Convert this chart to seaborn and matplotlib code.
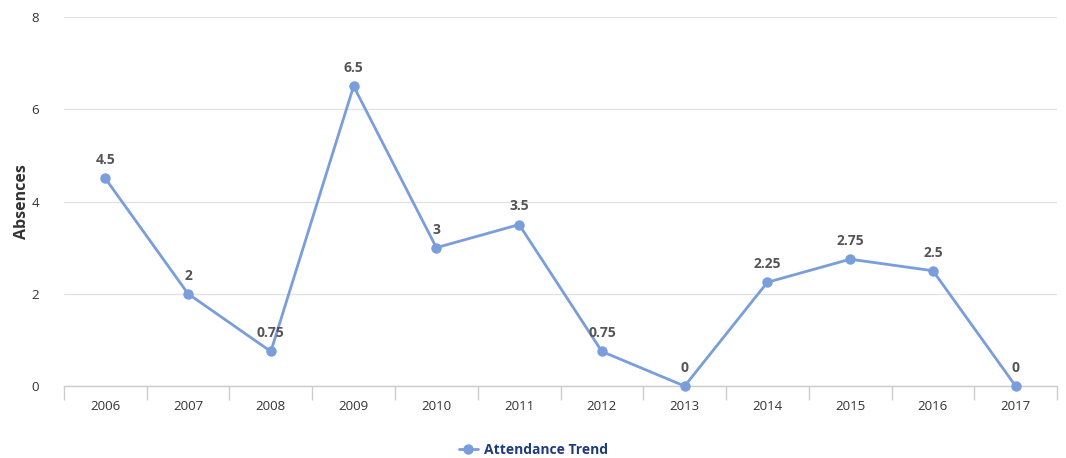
import numpy as np
import matplotlib
matplotlib.use("Agg")
import matplotlib.pyplot as plt
import seaborn as sns
from matplotlib.ticker import FixedLocator

years = ["2006", "2007", "2008", "2009", "2010", "2011",
         "2012", "2013", "2014", "2015", "2016", "2017"]
absences = [4.5, 2, 0.75, 6.5, 3, 3.5, 0.75, 0, 2.25, 2.75, 2.5, 0]
label_text = ["4.5", "2", "0.75", "6.5", "3", "3.5", "0.75", "0", "2.25", "2.75", "2.5", "0"]

sns.set_style("white")
plt.rcParams["font.family"] = ["Open Sans", "DejaVu Sans"]

line_col = "#7a9ddb"

fig = plt.figure(figsize=(10.66, 4.58), dpi=100)
ax = fig.add_axes([0.060, 0.157, 0.9316, 0.806])

xs = np.arange(len(years))
sns.lineplot(x=xs, y=absences, ax=ax, color=line_col, linewidth=2,
             marker="o", markersize=7.5, markeredgewidth=0,
             label="Attendance Trend", legend=False, clip_on=False, zorder=3)

for x, y, t in zip(xs, absences, label_text):
    ax.annotate(t, (x, y), xytext=(0, 8), textcoords="offset points",
                ha="center", va="bottom", fontsize=10, fontweight="bold",
                color="#555555")

ax.set_xlim(-0.5, len(years) - 0.5)
ax.set_ylim(0, 8)
ax.set_yticks([0, 2, 4, 6, 8])
ax.set_xticks(xs)
ax.set_xticklabels(years)
ax.xaxis.set_minor_locator(FixedLocator(np.arange(-0.5, len(years), 1)))
ax.tick_params(axis="x", which="major", bottom=False, length=0, pad=10,
               labelsize=9.5, labelcolor="#333333")
ax.tick_params(axis="x", which="minor", bottom=True, length=10, width=1,
               color="#cccccc", direction="out")
ax.tick_params(axis="y", length=0, pad=18, labelsize=9.5, labelcolor="#333333")

ax.yaxis.grid(True, color="#e3e3e3", linewidth=1)
ax.set_axisbelow(True)
for s in ["top", "right", "left"]:
    ax.spines[s].set_visible(False)
ax.spines["bottom"].set_color("#cccccc")
ax.spines["bottom"].set_linewidth(1)
ax.spines["bottom"].set_zorder(1)

ax.set_ylabel("Absences", fontsize=11.5, fontweight="bold", color="#333333")
ax.yaxis.set_label_coords(-0.034, 0.5)

handles, labels = ax.get_legend_handles_labels()
leg = fig.legend(handles, labels, loc="center", bbox_to_anchor=(0.5, 0.018),
                 frameon=False, fontsize=10, handlelength=1.4, handletextpad=0.4)
for txt in leg.get_texts():
    txt.set_color("#1f3b7d")
    txt.set_fontweight("bold")

fig.savefig("out.png", dpi=100)
